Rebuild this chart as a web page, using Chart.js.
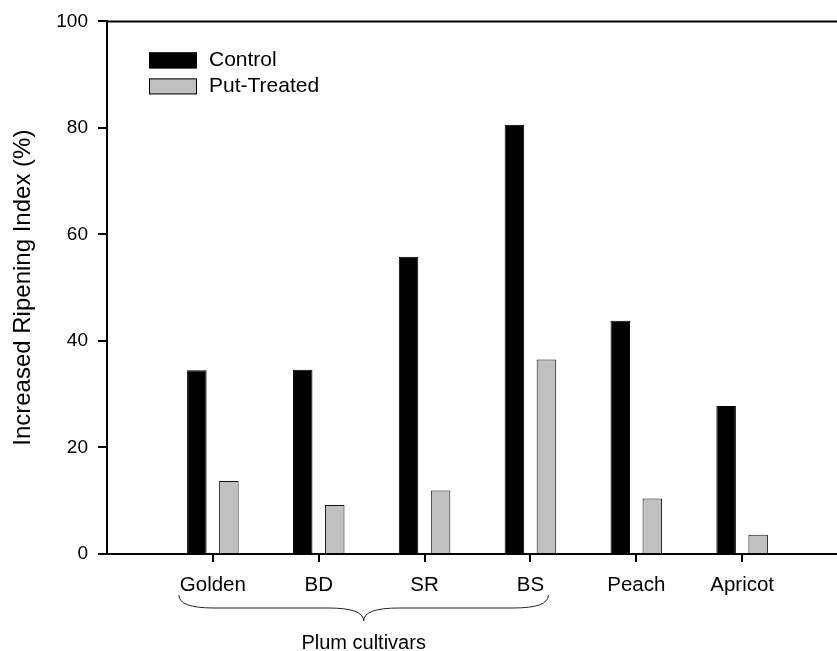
<!DOCTYPE html>
<html>
<head>
<meta charset="utf-8">
<script src="https://cdn.jsdelivr.net/npm/chart.js@4/dist/chart.umd.min.js"></script>
<style>
  html, body { margin: 0; padding: 0; background: #fff; overflow: hidden; }
  #wrap { width: 837px; height: 651px; overflow: hidden; }
</style>
</head>
<body>
<div id="wrap">
  <canvas id="ripeningChart" width="859" height="651"></canvas>
</div>
<script>
// categories (blank slots at both ends keep the axis open like the original)
const categories = ["", "Golden", "BD", "SR", "BS", "Peach", "Apricot", ""];
const controlValues = [null, 34.5, 34.6, 55.8, 80.6, 43.8, 27.8, null];
const putTreatedValues = [null, 13.7, 9.2, 11.9, 36.5, 10.4, 3.6, null];
const yTicks = [0, 20, 40, 60, 80, 100];

const FONT = "Arial, 'Liberation Sans', sans-serif";

// top border of the plot box
const topLinePlugin = {
  id: "topLine",
  afterDraw(chart) {
    const { ctx, chartArea } = chart;
    ctx.save();
    ctx.strokeStyle = "#000";
    ctx.lineWidth = 2;
    ctx.beginPath();
    ctx.moveTo(chartArea.left - 1, chartArea.top);
    ctx.lineTo(chart.width, chartArea.top);
    ctx.stroke();
    ctx.restore();
  },
};

// legend drawn inside the plot area, stacked vertically
const insideLegendPlugin = {
  id: "insideLegend",
  afterDraw(chart) {
    const { ctx, chartArea } = chart;
    const x = chartArea.left + 42;
    let y = chartArea.top + 31;
    ctx.save();
    ctx.font = "21px " + FONT;
    ctx.textBaseline = "middle";
    chart.data.datasets.forEach((ds) => {
      ctx.fillStyle = ds.backgroundColor;
      ctx.fillRect(x, y, 48, 16);
      ctx.strokeStyle = "#000";
      ctx.lineWidth = 1;
      ctx.strokeRect(x + 0.5, y + 0.5, 47, 15);
      ctx.fillStyle = "#000";
      ctx.fillText(ds.label, x + 60, y + 8);
      y += 26;
    });
    ctx.restore();
  },
};

// curly brace under the plum cultivars
const bracePlugin = {
  id: "plumBrace",
  afterDraw(chart) {
    const { ctx } = chart;
    const xs = chart.scales.x;
    const left = xs.getPixelForValue(1) - 34;
    const right = xs.getPixelForValue(4) + 18;
    const mid = (left + right) / 2;
    const top = 595, line = 608, tip = 621;
    ctx.save();
    ctx.strokeStyle = "#222";
    ctx.lineWidth = 1;
    ctx.beginPath();
    ctx.moveTo(left, top);
    ctx.quadraticCurveTo(left, line, left + 35, line);
    ctx.lineTo(mid - 35, line);
    ctx.quadraticCurveTo(mid, line, mid, tip);
    ctx.quadraticCurveTo(mid, line, mid + 35, line);
    ctx.lineTo(right - 35, line);
    ctx.quadraticCurveTo(right, line, right, top);
    ctx.stroke();
    ctx.fillStyle = "#000";
    ctx.font = "20px " + FONT;
    ctx.textAlign = "center";
    ctx.textBaseline = "alphabetic";
    ctx.fillText("Plum cultivars", mid, 649);
    ctx.restore();
  },
};

new Chart(document.getElementById("ripeningChart"), {
  type: "bar",
  data: {
    labels: categories,
    datasets: [
      {
        label: "Control",
        data: controlValues,
        backgroundColor: "#000000",
        borderColor: "#000000",
        borderWidth: 1,
      },
      {
        label: "Put-Treated",
        data: putTreatedValues,
        backgroundColor: "#c0c0c0",
        borderColor: "#111111",
        borderWidth: 1,
      },
    ],
  },
  options: {
    responsive: false,
    animation: false,
    categoryPercentage: 0.605,
    barPercentage: 0.61,
    layout: { padding: { top: 20, right: 0, left: 0, bottom: 0 } },
    plugins: {
      legend: { display: false },
      title: { display: false },
      tooltip: { enabled: false },
    },
    scales: {
      x: {
        offset: false,
        afterFit: (scale) => {
          scale.height = 97;
        },
        grid: {
          offset: false,
          drawOnChartArea: false,
          drawTicks: true,
          tickLength: 8,
          tickColor: (ctx) =>
            ctx.index === 0 || ctx.index === categories.length - 1 ? "rgba(0,0,0,0)" : "#000",
          lineWidth: 2,
        },
        border: { display: true, color: "#000", width: 2 },
        ticks: {
          color: "#000",
          font: { family: FONT, size: 20.5 },
          padding: 11,
          maxRotation: 0,
          autoSkip: false,
        },
      },
      y: {
        min: 0,
        max: 100,
        afterFit: (scale) => {
          scale.width = 107;
        },
        afterBuildTicks: (scale) => {
          scale.ticks = yTicks.map((v) => ({ value: v }));
        },
        grid: {
          drawOnChartArea: false,
          drawTicks: true,
          tickLength: 9,
          tickColor: "#000",
          lineWidth: 2,
        },
        border: { display: true, color: "#000", width: 2 },
        ticks: {
          color: "#000",
          font: { family: FONT, size: 19 },
          padding: 10,
        },
        title: {
          display: true,
          text: "Increased Ripening Index (%)",
          color: "#000",
          font: { family: FONT, size: 24 },
          padding: { top: 9, bottom: 0 },
        },
      },
    },
  },
  plugins: [topLinePlugin, insideLegendPlugin, bracePlugin],
});
</script>
</body>
</html>
